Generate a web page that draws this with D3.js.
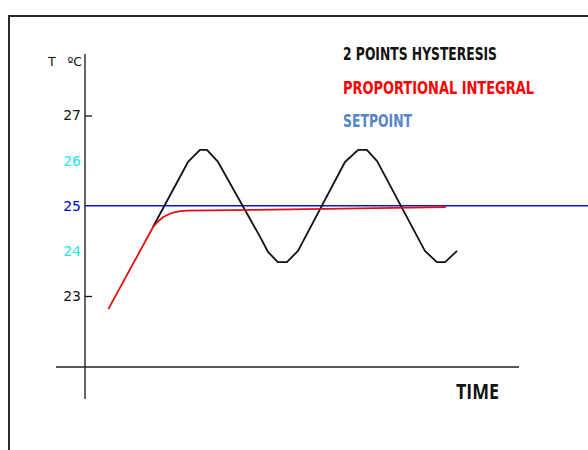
<!DOCTYPE html>
<html>
<head>
<meta charset="utf-8">
<script src="https://cdn.jsdelivr.net/npm/d3@7"></script>
<style>
  html, body { margin: 0; padding: 0; background: #fff; }
  svg { display: block; }
</style>
</head>
<body>
<svg id="chart" width="588" height="450"></svg>
<script>
// ---- data ----
const yTickValues = [23, 24, 25, 26, 27];
const yTickLabels = ["23", "24", "25", "26", "27"];
const yTickColors = ["#111111", "#22e6e6", "#0000c8", "#22e6e6", "#111111"];
const yTickMarked = [true, false, false, false, true];

const setpoint = 25;

const hysteresisTime = [16.5, 25.0, 27.9, 29.6, 32.3, 42.5, 44.4, 46.8, 49.0, 51.7, 63.1, 66.3, 68.4, 70.9, 82.5, 85.4, 87.4, 90.3];
const hysteresisTemp = [24.53, 25.97, 26.24, 26.24, 25.97, 24.31, 23.98, 23.75, 23.75, 24.0, 25.97, 26.24, 26.24, 25.99, 24.0, 23.75, 23.75, 24.0];

const piTime = [5.66, 16.6, 17.7, 19.0, 20.1, 21.4, 23.1, 24.7, 49.8, 87.6];
const piTemp = [22.71, 24.54, 24.65, 24.75, 24.80, 24.85, 24.88, 24.89, 24.92, 24.97];

const legendLabels = ["2 POINTS HYSTERESIS", "PROPORTIONAL INTEGRAL", "SETPOINT"];
const legendColors = ["#111111", "#ff0000", "#5585c5"];

// ---- layout ----
const svg = d3.select("#chart");
const x = d3.scaleLinear().domain([0, 100]).range([85, 497]);
const y = d3.scaleLinear().domain([23, 27]).range([296, 115.5]);

// frame
svg.append("rect")
  .attr("x", 9).attr("y", 16).attr("width", 640).attr("height", 500)
  .attr("fill", "none").attr("stroke", "#2a2a2a").attr("stroke-width", 2);

// axes lines
svg.append("line").attr("x1", 85).attr("x2", 85).attr("y1", 54).attr("y2", 399)
  .attr("stroke", "#111").attr("stroke-width", 1.3);
svg.append("line").attr("x1", 56).attr("x2", 519).attr("y1", 367).attr("y2", 367)
  .attr("stroke", "#222").attr("stroke-width", 1.3);

// y axis ticks & labels
const yAxis = d3.axisLeft(y)
  .tickValues(yTickValues)
  .tickFormat((d, i) => yTickLabels[i])
  .tickSizeInner(-7).tickSizeOuter(0).tickPadding(4);
const gy = svg.append("g").attr("transform", "translate(85,0)").call(yAxis);
gy.select(".domain").remove();
gy.selectAll(".tick line")
  .attr("stroke", "#111").attr("stroke-width", 1.3)
  .attr("display", (d, i) => yTickMarked[i] ? null : "none");
gy.selectAll(".tick text")
  .attr("font-family", "'DejaVu Sans', sans-serif")
  .attr("font-size", 14)
  .attr("fill", (d, i) => yTickColors[i]);

// unit label
svg.append("text").attr("x", 48).attr("y", 66)
  .attr("font-family", "'DejaVu Sans', sans-serif").attr("font-size", 12.5)
  .attr("fill", "#111").text("T");
svg.append("text").attr("x", 82).attr("y", 66).attr("text-anchor", "end")
  .attr("font-family", "'DejaVu Sans', sans-serif").attr("font-size", 12.5)
  .attr("fill", "#111").text("ºC");

// setpoint line
svg.append("line")
  .attr("x1", x(0)).attr("x2", 588)
  .attr("y1", y(setpoint)).attr("y2", y(setpoint))
  .attr("stroke", "#0a14e6").attr("stroke-width", 1.6);

// hysteresis (black)
const hysData = hysteresisTime.map((t, i) => [t, hysteresisTemp[i]]);
svg.append("path").datum(hysData)
  .attr("fill", "none").attr("stroke", "#111").attr("stroke-width", 1.8)
  .attr("stroke-linejoin", "round")
  .attr("d", d3.line().x(d => x(d[0])).y(d => y(d[1])).curve(d3.curveLinear));

// PI (red)
const piData = piTime.map((t, i) => [t, piTemp[i]]);
svg.append("path").datum(piData)
  .attr("fill", "none").attr("stroke", "#e01010").attr("stroke-width", 1.8)
  .attr("stroke-linejoin", "round")
  .attr("d", d3.line().x(d => x(d[0])).y(d => y(d[1])).curve(d3.curveLinear));

// legend
const legendWidths = [154, 191, 69];
const legendY = [60, 93.5, 127];
legendLabels.forEach((lab, i) => {
  svg.append("text")
    .attr("x", 343).attr("y", legendY[i])
    .attr("font-family", "'Liberation Sans Narrow', 'DejaVu Sans Condensed', 'Arial Narrow', sans-serif")
    .attr("font-weight", "bold").attr("font-size", 18)
    .attr("textLength", legendWidths[i]).attr("lengthAdjust", "spacingAndGlyphs")
    .attr("fill", legendColors[i]).text(lab);
});

// x label
svg.append("text").attr("x", 456).attr("y", 398.5)
  .attr("font-family", "'Open Sans', sans-serif").attr("font-weight", "bold")
  .attr("font-size", 20.5).attr("textLength", 43).attr("lengthAdjust", "spacingAndGlyphs")
  .attr("fill", "#111").text("TIME");
</script>
</body>
</html>
